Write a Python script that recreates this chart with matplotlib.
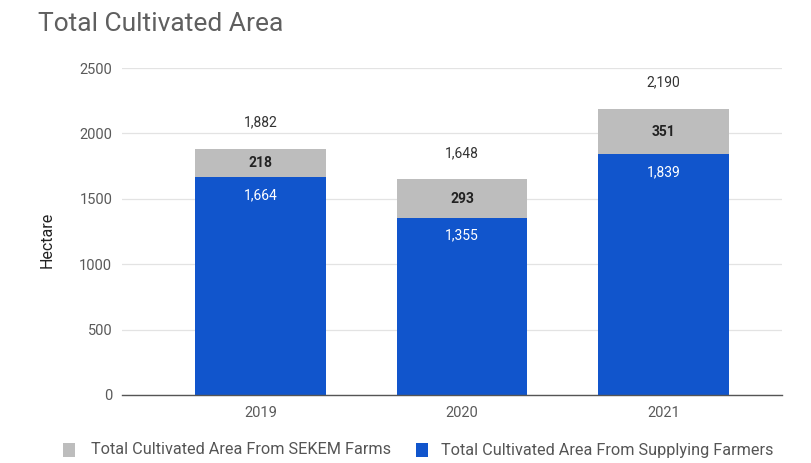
import matplotlib
matplotlib.use("Agg")
import matplotlib.pyplot as plt
from matplotlib.patches import Rectangle

plt.rcParams['font.family'] = ['Roboto', 'DejaVu Sans']

years = ["2019", "2020", "2021"]
farmers = [1664, 1355, 1839]
sekem = [218, 293, 351]
totals = [1882, 1648, 2190]
yticks = [0, 500, 1000, 1500, 2000, 2500]
legend_labels = ["Total Cultivated Area From SEKEM Farms",
                 "Total Cultivated Area From Supplying Farmers"]

blue = "#1155cc"
gray = "#bdbdbd"

W, H = 811, 463
fig = plt.figure(figsize=(W / 100, H / 100), dpi=100)
ax = fig.add_axes([122 / W, 1 - 395 / H, 660 / W, 327 / H])

x = list(range(len(years)))
w = 0.65
ax.bar(x, farmers, width=w, color=blue, zorder=3)
ax.bar(x, sekem, width=w, bottom=farmers, color=gray, zorder=3)

for i in x:
    ax.text(i, farmers[i] - 135, f"{farmers[i]:,}", ha="center", va="center",
            color="white", fontsize=10, zorder=4)
    ax.text(i, farmers[i] + sekem[i] / 2, f"{sekem[i]:,}", ha="center", va="center",
            color="#222222", fontsize=10, fontweight="bold", zorder=4)
    ax.text(i, totals[i] + 200, f"{totals[i]:,}", ha="center", va="center",
            color="#333333", fontsize=10, zorder=4)

ax.set_xlim(-0.69, 2.59)
ax.set_ylim(0, 2500)
ax.set_yticks(yticks)
ax.set_yticklabels([str(v) for v in yticks])
ax.set_xticks(x)
ax.set_xticklabels(years)
ax.tick_params(axis="both", length=0, labelsize=10.5, labelcolor="#5a5a5a")
ax.tick_params(axis="x", pad=8)
ax.tick_params(axis="y", pad=7)
ax.grid(axis="y", color="#e3e3e3", linewidth=0.9, zorder=0)
for s in ["top", "right", "left"]:
    ax.spines[s].set_visible(False)
ax.spines["bottom"].set_color("#555555")
ax.spines["bottom"].set_linewidth(1.0)
ax.spines["bottom"].set_zorder(5)

ax.set_ylabel("Hectare", fontsize=11.5, color="#222222", va="center")
ax.yaxis.set_label_coords(-0.114, 0.474)

fig.text(38 / W, 1 - 24 / H, "Total Cultivated Area", fontsize=19, color="#5f5f5f",
         ha="left", va="center")

# legend drawn in figure pixel coordinates
ly = 450
for (sx, tx), col, lab in zip([(63, 91), (416, 441)], [gray, blue], legend_labels):
    fig.patches.append(Rectangle((sx / W, 1 - (ly + 7) / H), 12 / W, 14 / H,
                                 facecolor=col, edgecolor="none",
                                 transform=fig.transFigure, figure=fig))
    fig.text(tx / W, 1 - ly / H, lab, fontsize=11.7, color="#555555",
             ha="left", va="center")

fig.savefig("out.png", dpi=100, facecolor="white")
